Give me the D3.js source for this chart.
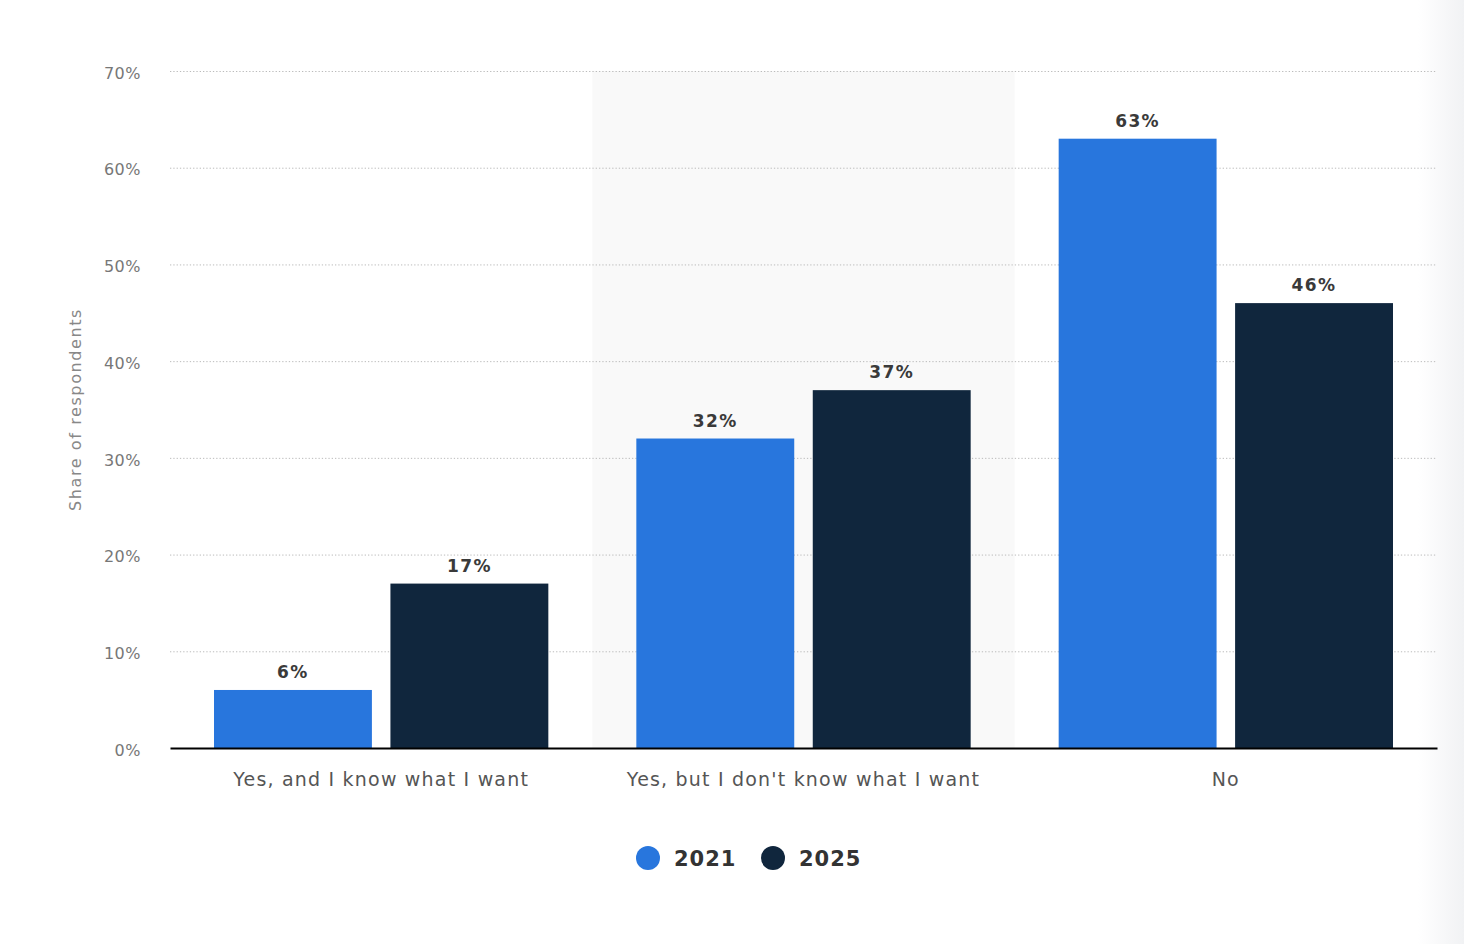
<!DOCTYPE html>
<html>
<head>
<meta charset="utf-8">
<script src="https://cdn.jsdelivr.net/npm/d3@7"></script>
<style>
  body { margin: 0; background: #fff; }
  svg { display: block; }
</style>
</head>
<body>
<script>
// data
var categories = ["Yes, and I know what I want", "Yes, but I don't know what I want", "No"];
var seriesNames = ["2021", "2025"];
var values2021 = [6, 32, 63];
var values2025 = [17, 37, 46];
var yTicks = [0, 10, 20, 30, 40, 50, 60, 70];

var colors = {"2021": "#2876dd", "2025": "#10263d"};
var font = "'DejaVu Sans', Verdana, sans-serif";

var width = 1464, height = 944;
var margin = {left: 170, right: 27, top: 71, bottom: 196};

var svg = d3.select("body").append("svg")
    .attr("width", width)
    .attr("height", height);

// soft shade on the right edge
var defs = svg.append("defs");
var grad = defs.append("linearGradient").attr("id", "edge")
    .attr("x1", "0").attr("x2", "1").attr("y1", "0").attr("y2", "0");
grad.append("stop").attr("offset", "0").attr("stop-color", "#ffffff");
grad.append("stop").attr("offset", "1").attr("stop-color", "#f1f2f4");
svg.append("rect").attr("x", 1418).attr("y", 0).attr("width", 46).attr("height", height)
    .attr("fill", "url(#edge)");

var x0 = d3.scaleBand()
    .domain(categories)
    .range([margin.left, width - margin.right])
    .paddingInner(0)
    .paddingOuter(0);

var x1 = d3.scaleBand()
    .domain(seriesNames)
    .range([44, x0.bandwidth() - 44])
    .paddingInner(0.105);

var y = d3.scaleLinear()
    .domain([0, 70])
    .range([height - margin.bottom, margin.top]);

// light band behind the middle group
svg.append("rect")
    .attr("x", x0(categories[1]))
    .attr("y", y(70))
    .attr("width", x0.bandwidth())
    .attr("height", y(0) - y(70))
    .attr("fill", "#f9f9f9");

// grid
var yAxis = d3.axisLeft(y)
    .tickValues(yTicks)
    .tickFormat(function(d){ return d + "%"; })
    .tickSize(-(width - margin.left - margin.right))
    .tickPadding(29);

var ga = svg.append("g")
    .attr("transform", "translate(" + margin.left + ",0)")
    .call(yAxis);
ga.select(".domain").remove();
ga.selectAll(".tick line")
    .attr("stroke", "#bbb")
    .attr("stroke-dasharray", "1.3,2")
    .attr("stroke-width", 1);
ga.selectAll(".tick text")
    .attr("fill", "#777")
    .attr("font-family", font)
    .attr("font-size", 16)
    .attr("letter-spacing", 0.5)
    .attr("dy", "0.45em");
ga.selectAll(".tick").filter(function(d){ return d === 0; }).select("line").remove();

// bars
var rows = categories.map(function(c, i){
    return [{cat: c, s: "2021", v: values2021[i]}, {cat: c, s: "2025", v: values2025[i]}];
});

var groups = svg.append("g").selectAll("g")
    .data(rows)
    .enter().append("g")
    .attr("transform", function(d){ return "translate(" + x0(d[0].cat) + ",0)"; });

groups.selectAll("rect")
    .data(function(d){ return d; })
    .enter().append("rect")
    .attr("x", function(d){ return x1(d.s); })
    .attr("y", function(d){ return y(d.v); })
    .attr("width", x1.bandwidth())
    .attr("height", function(d){ return y(0) - y(d.v); })
    .attr("fill", function(d){ return colors[d.s]; });

groups.selectAll("text")
    .data(function(d){ return d; })
    .enter().append("text")
    .attr("x", function(d){ return x1(d.s) + x1.bandwidth() / 2; })
    .attr("y", function(d){ return y(d.v) - 12; })
    .attr("text-anchor", "middle")
    .attr("fill", "#3a3a3a")
    .attr("font-family", font)
    .attr("font-weight", "bold")
    .attr("font-size", 17)
    .attr("letter-spacing", 1.4)
    .text(function(d){ return d.v + "%"; });

// x axis
var xAxis = d3.axisBottom(x0).tickSize(0).tickPadding(25);
var gx = svg.append("g")
    .attr("transform", "translate(0," + y(0) + ")")
    .call(xAxis);
gx.select(".domain").attr("stroke", "#000").attr("stroke-width", 2);
gx.selectAll(".tick text")
    .attr("fill", "#555")
    .attr("font-family", font)
    .attr("font-size", 19)
    .attr("letter-spacing", 1.2);

// y axis title
svg.append("text")
    .attr("transform", "translate(81," + ((y(0) + y(70)) / 2 + 0) + ") rotate(-90)")
    .attr("text-anchor", "middle")
    .attr("fill", "#888")
    .attr("font-family", font)
    .attr("font-size", 16)
    .attr("letter-spacing", 1.6)
    .text("Share of respondents");

// legend
var legend = svg.append("g").attr("transform", "translate(648,858)");
var li = legend.selectAll("g")
    .data(seriesNames)
    .enter().append("g")
    .attr("transform", function(d, i){ return "translate(" + (i * 125) + ",0)"; });
li.append("circle").attr("r", 12).attr("fill", function(d){ return colors[d]; });
li.append("text")
    .attr("x", 26)
    .attr("dy", "0.36em")
    .attr("fill", "#333")
    .attr("font-family", font)
    .attr("font-weight", "bold")
    .attr("font-size", 21)
    .attr("letter-spacing", 1)
    .text(function(d){ return d; });
</script>
</body>
</html>
